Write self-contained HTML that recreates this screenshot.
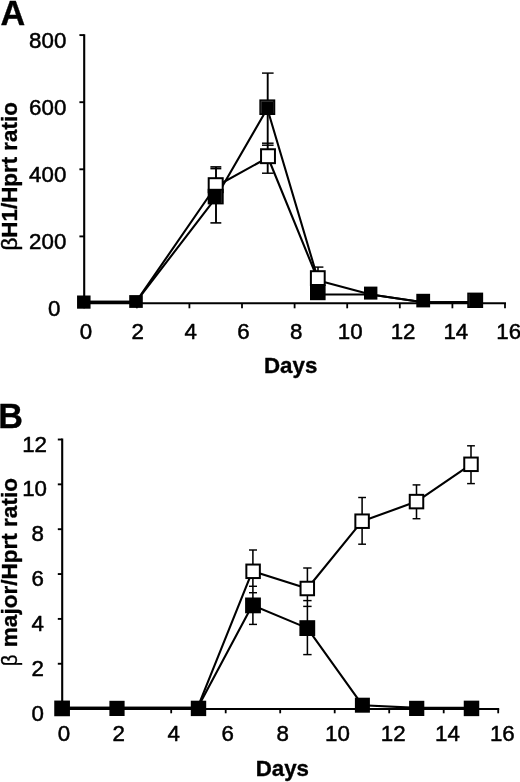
<!DOCTYPE html>
<html lang="en">
<head>
<meta charset="utf-8">
<title>Figure: &#946;H1/Hprt and &#946; major/Hprt ratio over days</title>
<style>
html,body{margin:0;padding:0;background:#fff;}
body{width:520px;height:782px;overflow:hidden;font-family:"Liberation Sans", sans-serif;}
svg{display:block;will-change:transform;filter:grayscale(1);}
svg text{font-family:"Liberation Sans", sans-serif;fill:#000;stroke:#000;stroke-linejoin:round;}
</style>
</head>
<body>
<svg width="520" height="782" viewBox="0 0 520 782">
<rect x="0" y="0" width="520" height="782" fill="#fff"/>
<line x1="84.20" y1="34.15" x2="84.20" y2="304.30" stroke="#000" stroke-width="2.1" />
<line x1="83.20" y1="303.25" x2="506.00" y2="303.25" stroke="#000" stroke-width="2.0" />
<line x1="79.40" y1="236.40" x2="84.20" y2="236.40" stroke="#000" stroke-width="1.9" />
<line x1="79.40" y1="169.30" x2="84.20" y2="169.30" stroke="#000" stroke-width="1.9" />
<line x1="79.40" y1="102.20" x2="84.20" y2="102.20" stroke="#000" stroke-width="1.9" />
<line x1="79.40" y1="35.10" x2="84.20" y2="35.10" stroke="#000" stroke-width="1.9" />
<line x1="84.20" y1="303.25" x2="84.20" y2="308.30" stroke="#000" stroke-width="1.8" />
<line x1="136.80" y1="303.25" x2="136.80" y2="308.30" stroke="#000" stroke-width="1.8" />
<line x1="189.40" y1="303.25" x2="189.40" y2="308.30" stroke="#000" stroke-width="1.8" />
<line x1="242.00" y1="303.25" x2="242.00" y2="308.30" stroke="#000" stroke-width="1.8" />
<line x1="294.60" y1="303.25" x2="294.60" y2="308.30" stroke="#000" stroke-width="1.8" />
<line x1="347.20" y1="303.25" x2="347.20" y2="308.30" stroke="#000" stroke-width="1.8" />
<line x1="399.80" y1="303.25" x2="399.80" y2="308.30" stroke="#000" stroke-width="1.8" />
<line x1="452.40" y1="303.25" x2="452.40" y2="308.30" stroke="#000" stroke-width="1.8" />
<line x1="505.00" y1="303.25" x2="505.00" y2="308.30" stroke="#000" stroke-width="1.8" />
<text x="66.30" y="47.50" font-size="22.3" text-anchor="end" stroke-width="0.5" >800</text>
<text x="66.30" y="114.50" font-size="22.3" text-anchor="end" stroke-width="0.5" >600</text>
<text x="66.30" y="181.50" font-size="22.3" text-anchor="end" stroke-width="0.5" >400</text>
<text x="66.30" y="248.50" font-size="22.3" text-anchor="end" stroke-width="0.5" >200</text>
<text x="60.30" y="315.50" font-size="22.3" text-anchor="end" stroke-width="0.5" >0</text>
<text x="86.00" y="339.30" font-size="22.3" text-anchor="middle" stroke-width="0.5" >0</text>
<text x="137.74" y="339.30" font-size="22.3" text-anchor="middle" stroke-width="0.5" >2</text>
<text x="190.58" y="339.30" font-size="22.3" text-anchor="middle" stroke-width="0.5" >4</text>
<text x="243.42" y="339.30" font-size="22.3" text-anchor="middle" stroke-width="0.5" >6</text>
<text x="296.26" y="339.30" font-size="22.3" text-anchor="middle" stroke-width="0.5" >8</text>
<text x="350.20" y="339.30" font-size="22.3" text-anchor="middle" stroke-width="0.5" >10</text>
<text x="403.04" y="339.30" font-size="22.3" text-anchor="middle" stroke-width="0.5" >12</text>
<text x="455.88" y="339.30" font-size="22.3" text-anchor="middle" stroke-width="0.5" >14</text>
<text x="508.72" y="339.30" font-size="22.3" text-anchor="middle" stroke-width="0.5" >16</text>
<text x="264.00" y="373.30" font-size="22.3" text-anchor="start" font-weight="700" stroke-width="0.35" >Days</text>
<text x="0.60" y="24.60" font-size="34.2" text-anchor="start" font-weight="700" stroke-width="0.35" >A</text>
<text transform="translate(16.8,250.6) rotate(-90)" font-size="22.400000000000002" font-weight="700" stroke-width="0.35"><tspan font-weight="400" stroke-width="0.45">β</tspan>H1/Hprt ratio</text>
<polyline points="84.00,301.90 136.00,301.90 215.60,186.50 268.00,157.50 318.30,280.60 370.70,294.50 423.20,302.30 475.20,302.00" fill="none" stroke="#000" stroke-width="2.1" stroke-linejoin="round"/>
<polyline points="84.00,301.90 136.00,301.90 215.60,198.10 267.30,108.50 318.50,281.00 318.50,294.50 370.70,294.50 423.20,302.30 475.20,302.00" fill="none" stroke="#000" stroke-width="2.1" stroke-linejoin="round"/>
<line x1="216.00" y1="166.90" x2="216.00" y2="222.90" stroke="#000" stroke-width="1.9" />
<line x1="210.40" y1="166.90" x2="221.30" y2="166.90" stroke="#000" stroke-width="1.6" />
<line x1="210.40" y1="168.60" x2="221.30" y2="168.60" stroke="#000" stroke-width="1.6" />
<line x1="210.40" y1="222.90" x2="221.30" y2="222.90" stroke="#000" stroke-width="1.6" />
<line x1="267.70" y1="73.10" x2="267.70" y2="173.20" stroke="#000" stroke-width="1.9" />
<line x1="262.00" y1="73.10" x2="273.60" y2="73.10" stroke="#000" stroke-width="1.45" />
<line x1="262.00" y1="143.20" x2="273.60" y2="143.20" stroke="#000" stroke-width="1.45" />
<line x1="262.00" y1="145.20" x2="273.60" y2="145.20" stroke="#000" stroke-width="1.45" />
<line x1="262.00" y1="173.20" x2="273.60" y2="173.20" stroke="#000" stroke-width="1.45" />
<line x1="318.00" y1="267.10" x2="318.00" y2="290.00" stroke="#000" stroke-width="1.55" />
<line x1="313.50" y1="267.10" x2="323.40" y2="267.10" stroke="#000" stroke-width="1.45" />
<line x1="313.50" y1="290.00" x2="323.40" y2="290.00" stroke="#000" stroke-width="1.45" />
<rect x="208.70" y="178.20" width="14.00" height="14.00" fill="#fff" stroke="#000" stroke-width="2.0"/>
<rect x="261.05" y="149.25" width="13.90" height="13.90" fill="#fff" stroke="#000" stroke-width="2.0"/>
<rect x="310.90" y="271.20" width="13.80" height="13.80" fill="#fff" stroke="#000" stroke-width="2.0"/>
<rect x="77.05" y="295.50" width="13.50" height="13.20" fill="#000"/>
<rect x="129.20" y="295.10" width="13.60" height="12.80" fill="#000"/>
<rect x="207.70" y="188.80" width="16.00" height="15.60" fill="#000"/>
<rect x="259.35" y="99.40" width="15.90" height="15.60" fill="#000"/>
<rect x="310.00" y="284.60" width="15.60" height="15.60" fill="#000"/>
<rect x="364.00" y="286.60" width="13.40" height="13.00" fill="#000"/>
<rect x="416.30" y="293.80" width="13.80" height="13.60" fill="#000"/>
<rect x="467.25" y="292.60" width="15.90" height="15.40" fill="#000"/>
<path d="M261.2,113.3 V101.3 H273.4" fill="none" stroke="#505050" stroke-width="0.7"/>
<path d="M273.6,102 V113.2" fill="none" stroke="#2e2e2e" stroke-width="0.6"/>
<path d="M221.4,190.4 V203" fill="none" stroke="#3c3c3c" stroke-width="0.6"/>
<path d="M469.2,294 V306.4" fill="none" stroke="#3c3c3c" stroke-width="0.6"/>
<line x1="62.20" y1="438.55" x2="62.20" y2="709.80" stroke="#000" stroke-width="2.1" />
<line x1="61.20" y1="709.00" x2="499.20" y2="709.00" stroke="#000" stroke-width="2.0" />
<line x1="57.80" y1="663.75" x2="62.20" y2="663.75" stroke="#000" stroke-width="1.9" />
<line x1="57.80" y1="618.90" x2="62.20" y2="618.90" stroke="#000" stroke-width="1.9" />
<line x1="57.80" y1="574.05" x2="62.20" y2="574.05" stroke="#000" stroke-width="1.9" />
<line x1="57.80" y1="529.20" x2="62.20" y2="529.20" stroke="#000" stroke-width="1.9" />
<line x1="57.80" y1="484.35" x2="62.20" y2="484.35" stroke="#000" stroke-width="1.9" />
<line x1="57.80" y1="439.50" x2="62.20" y2="439.50" stroke="#000" stroke-width="1.9" />
<line x1="62.20" y1="709.00" x2="62.20" y2="713.30" stroke="#000" stroke-width="1.8" />
<line x1="116.70" y1="709.00" x2="116.70" y2="713.30" stroke="#000" stroke-width="1.8" />
<line x1="171.20" y1="709.00" x2="171.20" y2="713.30" stroke="#000" stroke-width="1.8" />
<line x1="225.70" y1="709.00" x2="225.70" y2="713.30" stroke="#000" stroke-width="1.8" />
<line x1="280.20" y1="709.00" x2="280.20" y2="713.30" stroke="#000" stroke-width="1.8" />
<line x1="334.70" y1="709.00" x2="334.70" y2="713.30" stroke="#000" stroke-width="1.8" />
<line x1="389.20" y1="709.00" x2="389.20" y2="713.30" stroke="#000" stroke-width="1.8" />
<line x1="443.70" y1="709.00" x2="443.70" y2="713.30" stroke="#000" stroke-width="1.8" />
<line x1="498.20" y1="709.00" x2="498.20" y2="713.30" stroke="#000" stroke-width="1.8" />
<text x="47.00" y="451.50" font-size="22.3" text-anchor="end" stroke-width="0.5" >12</text>
<text x="47.00" y="496.35" font-size="22.3" text-anchor="end" stroke-width="0.5" >10</text>
<text x="43.80" y="541.20" font-size="22.3" text-anchor="end" stroke-width="0.5" >8</text>
<text x="43.80" y="586.05" font-size="22.3" text-anchor="end" stroke-width="0.5" >6</text>
<text x="43.80" y="630.90" font-size="22.3" text-anchor="end" stroke-width="0.5" >4</text>
<text x="43.80" y="675.75" font-size="22.3" text-anchor="end" stroke-width="0.5" >2</text>
<text x="43.80" y="720.60" font-size="22.3" text-anchor="end" stroke-width="0.5" >0</text>
<text x="63.90" y="741.40" font-size="22.3" text-anchor="middle" stroke-width="0.5" >0</text>
<text x="118.78" y="741.40" font-size="22.3" text-anchor="middle" stroke-width="0.5" >2</text>
<text x="173.66" y="741.40" font-size="22.3" text-anchor="middle" stroke-width="0.5" >4</text>
<text x="227.74" y="741.40" font-size="22.3" text-anchor="middle" stroke-width="0.5" >6</text>
<text x="282.62" y="741.40" font-size="22.3" text-anchor="middle" stroke-width="0.5" >8</text>
<text x="337.50" y="741.40" font-size="22.3" text-anchor="middle" stroke-width="0.5" >10</text>
<text x="393.18" y="741.40" font-size="22.3" text-anchor="middle" stroke-width="0.5" >12</text>
<text x="447.46" y="741.40" font-size="22.3" text-anchor="middle" stroke-width="0.5" >14</text>
<text x="502.34" y="741.40" font-size="22.3" text-anchor="middle" stroke-width="0.5" >16</text>
<text x="255.70" y="776.00" font-size="22.3" text-anchor="start" font-weight="700" stroke-width="0.35" >Days</text>
<text x="-1.70" y="428.40" font-size="34.2" text-anchor="start" font-weight="700" stroke-width="0.35" >B</text>
<text transform="translate(16.8,666.3) rotate(-90) scale(0.9,1)" font-size="22.55" stroke-width="0.4">β</text>
<text transform="translate(16.8,647.2) rotate(-90)" font-size="22.55" font-weight="700" stroke-width="0.35">major/Hprt ratio</text>
<polyline points="62.25,707.90 117.00,707.90 197.50,707.90 252.30,571.30 253.10,571.30 307.30,588.50 362.10,521.20 416.50,501.60 471.00,464.30" fill="none" stroke="#000" stroke-width="2.1" stroke-linejoin="round"/>
<polyline points="62.25,707.90 117.00,707.90 197.50,707.90 252.20,605.50 253.00,605.50 307.30,628.10 362.40,705.20 416.70,707.90 471.50,707.90" fill="none" stroke="#000" stroke-width="2.1" stroke-linejoin="round"/>
<line x1="252.90" y1="550.00" x2="252.90" y2="624.40" stroke="#000" stroke-width="1.55" />
<line x1="249.00" y1="550.00" x2="257.00" y2="550.00" stroke="#000" stroke-width="1.45" />
<line x1="249.00" y1="586.30" x2="257.00" y2="586.30" stroke="#000" stroke-width="1.45" />
<line x1="249.00" y1="592.70" x2="257.00" y2="592.70" stroke="#000" stroke-width="1.45" />
<line x1="249.00" y1="624.40" x2="257.00" y2="624.40" stroke="#000" stroke-width="1.45" />
<line x1="307.40" y1="568.00" x2="307.40" y2="654.60" stroke="#000" stroke-width="1.55" />
<line x1="303.20" y1="568.00" x2="311.60" y2="568.00" stroke="#000" stroke-width="1.45" />
<line x1="303.20" y1="600.60" x2="311.60" y2="600.60" stroke="#000" stroke-width="1.45" />
<line x1="303.20" y1="606.40" x2="311.60" y2="606.40" stroke="#000" stroke-width="1.45" />
<line x1="303.20" y1="654.60" x2="311.60" y2="654.60" stroke="#000" stroke-width="1.45" />
<line x1="362.10" y1="497.50" x2="362.10" y2="544.20" stroke="#000" stroke-width="1.55" />
<line x1="358.20" y1="497.50" x2="366.00" y2="497.50" stroke="#000" stroke-width="1.45" />
<line x1="358.20" y1="544.20" x2="366.00" y2="544.20" stroke="#000" stroke-width="1.45" />
<line x1="416.50" y1="484.90" x2="416.50" y2="518.70" stroke="#000" stroke-width="1.55" />
<line x1="412.60" y1="484.90" x2="420.40" y2="484.90" stroke="#000" stroke-width="1.45" />
<line x1="412.60" y1="518.70" x2="420.40" y2="518.70" stroke="#000" stroke-width="1.45" />
<line x1="471.00" y1="445.80" x2="471.00" y2="483.60" stroke="#000" stroke-width="1.55" />
<line x1="467.10" y1="445.80" x2="474.90" y2="445.80" stroke="#000" stroke-width="1.45" />
<line x1="467.10" y1="483.60" x2="474.90" y2="483.60" stroke="#000" stroke-width="1.45" />
<rect x="246.35" y="564.55" width="13.50" height="13.50" fill="#fff" stroke="#000" stroke-width="2.0"/>
<rect x="300.55" y="581.75" width="13.50" height="13.50" fill="#fff" stroke="#000" stroke-width="2.0"/>
<rect x="355.35" y="514.45" width="13.50" height="13.50" fill="#fff" stroke="#000" stroke-width="2.0"/>
<rect x="409.75" y="494.85" width="13.50" height="13.50" fill="#fff" stroke="#000" stroke-width="2.0"/>
<rect x="464.25" y="457.55" width="13.50" height="13.50" fill="#fff" stroke="#000" stroke-width="2.0"/>
<rect x="54.25" y="700.55" width="15.70" height="15.70" fill="#000"/>
<rect x="109.40" y="700.80" width="15.20" height="15.20" fill="#000"/>
<rect x="190.80" y="700.70" width="15.40" height="15.40" fill="#000"/>
<rect x="245.10" y="597.50" width="15.80" height="15.80" fill="#000"/>
<rect x="299.40" y="620.20" width="15.80" height="15.80" fill="#000"/>
<rect x="354.90" y="697.70" width="15.00" height="15.00" fill="#000"/>
<rect x="409.10" y="700.80" width="15.20" height="15.20" fill="#000"/>
<rect x="463.75" y="700.65" width="15.50" height="15.50" fill="#000"/>
</svg>
</body>
</html>
